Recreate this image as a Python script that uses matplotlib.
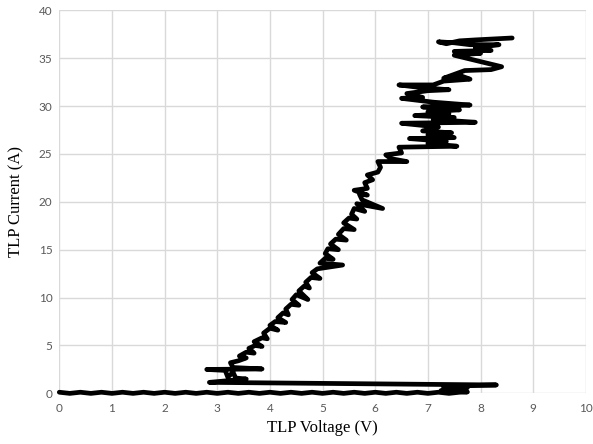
import matplotlib
matplotlib.use("Agg")
import matplotlib.pyplot as plt

# off-state leg: baseline up to trigger, then the trigger blob
off_v = [0.0, 0.2, 0.4, 0.6, 0.8, 1.0, 1.2, 1.4, 1.6, 1.8, 2.0, 2.2, 2.4, 2.6,
         2.8, 3.0, 3.2, 3.4, 3.6, 3.8, 4.0, 4.2, 4.4, 4.6, 4.8, 5.0, 5.2, 5.4,
         5.6, 5.8, 6.0, 6.2, 6.4, 6.6, 6.8, 7.0, 7.2, 7.4, 7.6, 7.75,
         7.25, 7.7, 7.3, 7.75, 7.3, 8.3]
off_i = [0.12, 0.0, 0.12, 0.0, 0.12, 0.0, 0.12, 0.0, 0.12, 0.0,
         0.12, 0.0, 0.12, 0.0, 0.12, 0.0, 0.12, 0.0, 0.12, 0.0,
         0.12, 0.0, 0.12, 0.0, 0.12, 0.0, 0.12, 0.0, 0.12, 0.0,
         0.12, 0.0, 0.12, 0.0, 0.12, 0.0, 0.12, 0.0, 0.12, 0.15,
         0.3, 0.35, 0.55, 0.6, 0.75, 0.88]

# snapback + on-state rise
on_v = [2.85, 3.55, 3.35, 3.3, 3.2, 3.15, 2.8, 3.85, 3.3, 3.25,
        3.4, 3.55, 3.42, 3.55, 3.7, 3.6, 3.72, 3.85, 3.7, 3.85,
        3.95, 3.88, 4.0, 4.15, 4.0, 4.1, 4.3, 4.15, 4.25, 4.35,
        4.3, 4.4, 4.55, 4.42, 4.5, 4.72, 4.55, 4.65, 4.75, 4.68,
        4.78, 4.95, 4.8, 4.9, 5.38, 4.95, 5.05, 5.2, 5.05, 5.1,
        5.3, 5.15, 5.25, 5.45, 5.3, 5.4, 5.6, 5.4, 5.5, 5.65,
        5.55, 5.6, 5.8, 5.65, 6.14, 5.75, 5.7, 5.85, 5.6, 5.85,
        5.8, 5.95, 5.85, 6.05, 6.1, 6.05, 6.6, 6.3, 6.2, 6.5,
        6.45, 7.55, 7.0, 7.35, 6.65, 7.5, 7.0, 7.45, 6.9, 7.2,
        6.5, 7.9, 7.1, 7.5, 6.75, 7.4, 7.0, 7.6, 6.9, 7.8,
        7.1, 6.5, 6.9, 6.6, 7.0, 7.4, 6.9, 6.45, 7.1, 7.3,
        7.8, 7.6, 7.3, 7.7, 8.2, 8.4, 7.5, 8.0, 7.5, 8.2,
        7.9, 8.35, 7.8, 7.5, 7.2, 7.35, 7.6, 7.9, 8.6]
on_i = [1.15, 1.5, 1.6, 2.2, 1.7, 2.4, 2.5, 2.55, 2.7, 3.2,
        3.4, 3.7, 3.9, 4.3, 4.2, 4.7, 5.0, 4.9, 5.4, 5.8,
        5.7, 6.3, 6.8, 6.6, 7.1, 7.5, 7.4, 7.9, 8.4, 8.2,
        8.8, 9.3, 9.2, 9.8, 10.3, 9.8, 10.7, 11.2, 11.0, 11.6,
        12.1, 12.0, 12.6, 13.0, 13.4, 13.6, 14.1, 14.0, 14.6, 15.1,
        15.0, 15.6, 16.1, 16.0, 16.6, 17.2, 17.1, 17.8, 18.3, 18.2,
        18.7, 19.3, 19.0, 19.8, 19.3, 20.2, 20.8, 20.7, 21.2, 21.4,
        22.0, 22.3, 22.8, 23.1, 23.6, 24.2, 24.2, 24.5, 24.9, 25.1,
        25.7, 25.8, 26.1, 26.3, 26.6, 26.7, 27.0, 27.2, 27.4, 27.8,
        28.2, 28.3, 28.6, 28.8, 29.0, 29.2, 29.4, 29.6, 29.9, 30.1,
        30.4, 30.8, 30.9, 31.3, 31.6, 31.7, 31.9, 32.2, 32.2, 32.6,
        32.8, 33.2, 32.9, 33.7, 33.8, 34.1, 35.3, 35.5, 35.7, 35.8,
        36.1, 36.4, 36.4, 36.6, 36.7, 36.5, 36.8, 36.9, 37.1]

x_ticks = [0, 1, 2, 3, 4, 5, 6, 7, 8, 9, 10]
y_ticks = [0, 5, 10, 15, 20, 25, 30, 35, 40]

fig = plt.figure(figsize=(5.93, 4.44), dpi=100)
ax = fig.add_axes([0.1, 0.114, 0.888, 0.863])

ax.plot(off_v + on_v, off_i + on_i, color="black", lw=3.4,
        solid_joinstyle="round", solid_capstyle="round", clip_on=False, zorder=3)

ax.set_xlim(0, 10)
ax.set_ylim(0, 40)
ax.set_xticks(x_ticks)
ax.set_yticks(y_ticks)
ax.grid(True, color="#d9d9d9", lw=1)
ax.set_axisbelow(True)
for s in ax.spines.values():
    s.set_visible(False)
ax.tick_params(length=0, labelsize=8.5, labelcolor="#595959")
ax.tick_params(axis="x", pad=7)
ax.tick_params(axis="y", pad=5)
for lab in ax.get_xticklabels() + ax.get_yticklabels():
    lab.set_fontfamily("Lato")

ax.set_xlabel("TLP Voltage (V)", fontsize=12, family="Liberation Serif", labelpad=4)
ax.set_ylabel("TLP Current (A)", fontsize=12, family="Liberation Serif", labelpad=10)

plt.savefig("out.png")
